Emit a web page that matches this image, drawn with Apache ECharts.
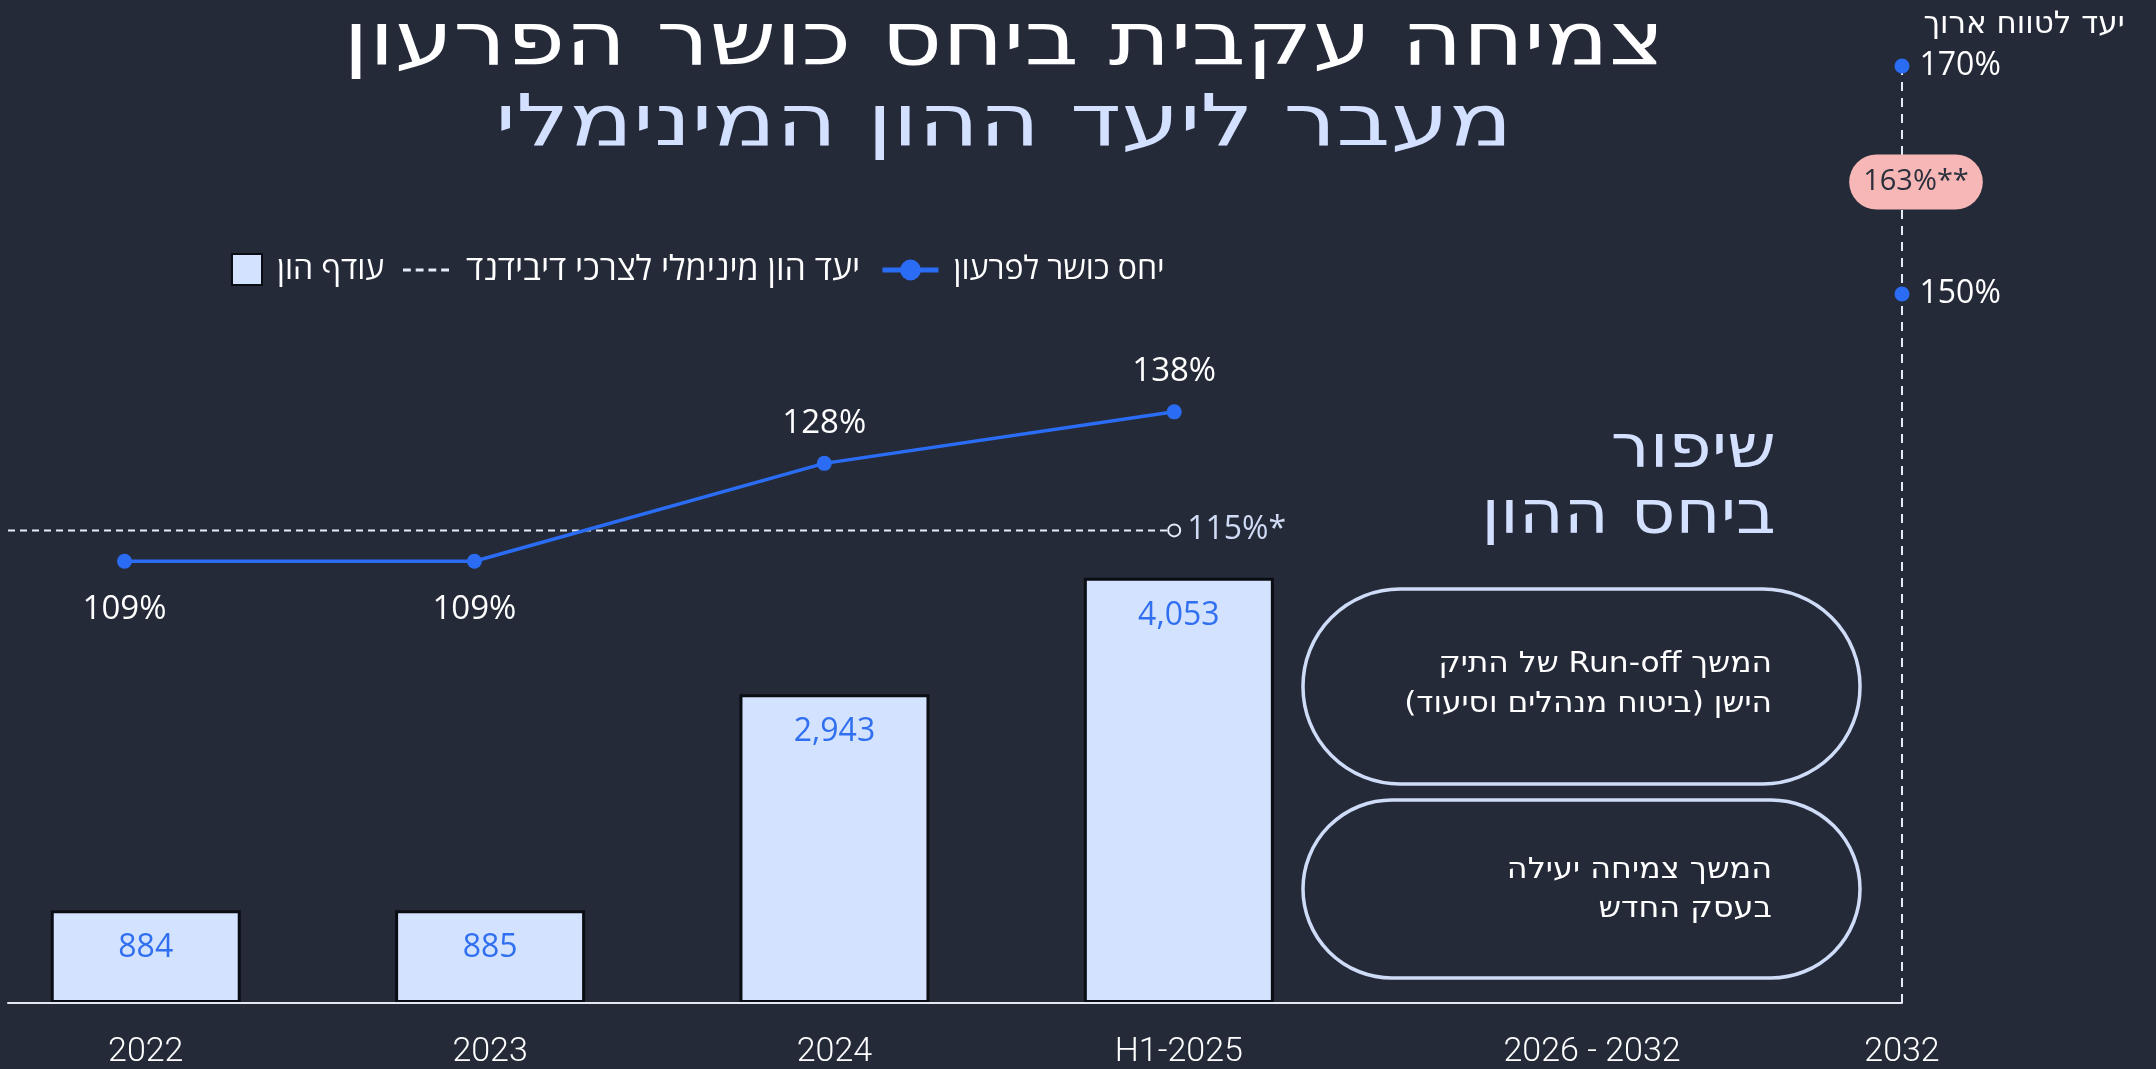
<!DOCTYPE html>
<html>
<head>
<meta charset="utf-8">
<script src="https://cdn.jsdelivr.net/npm/echarts@6/dist/echarts.min.js"></script>
<style>
  html, body { margin: 0; padding: 0; background: #252a39; }
  #chart { width: 2156px; height: 1069px; }
</style>
</head>
<body>
<div id="chart"></div>
<script>
// data
const periods = ['2022', '2023', '2024', 'H1-2025', '2026 - 2032', '2032'];
const capitalSurplus = [884, 885, 2943, 4053];          // עודף הון
const solvencyRatio = [109, 109, 128, 138];             // יחס כושר לפרעון (%)
const minDividendTarget = 115;                          // יעד הון מינימלי (%)
const longTermTargets = [170, 150];                     // יעד לטווח ארוך (%)
const longTermBadge = '163%**';

// where each period sits on the x value axis (layout only)
const periodPos = [0, 1, 2, 3, 4.2, 5.1];

const FONT = "'Open Sans', 'DejaVu Sans', sans-serif";
const WIDE = "'DejaVu Sans', 'Open Sans', sans-serif";
const RLE = '\u202B', PDF = '\u202C';
const rtl = s => s.split('\n').map(l => RLE + l + PDF).join('\n');

const NAME_BAR = 'עודף הון';
const NAME_MIN = 'יעד הון מינימלי לצרכי דיבידנד';
const NAME_RATIO = 'יחס כושר לפרעון';

let chart = echarts.init(document.getElementById('chart'));

chart.setOption({
  backgroundColor: '#252a39',
  textStyle: { fontFamily: FONT },
  animation: false,
  title: [
    {
      text: 'יעד לטווח ארוך',
      left: 2019, top: 4, textAlign: 'center',
      textStyle: { color: '#ffffff', fontSize: 31, fontWeight: 'normal', fontFamily: WIDE }
    }
  ],
  legend: [
    {
      left: 231, top: 253, padding: 0,
      itemWidth: 30, itemHeight: 31,
      data: [{ name: NAME_BAR, icon: 'rect' }],
      textStyle: { color: '#ffffff', fontSize: 32, padding: [0, 0, 0, 10] }
    },
    {
      left: 403, top: 253, padding: 0,
      itemWidth: 46, itemHeight: 31,
      data: [{ name: NAME_MIN, icon: 'path://M0,0h8v3h-8z M13,0h8v3h-8z M26,0h8v3h-8z M39,0h8v3h-8z',
               itemStyle: { color: '#e6ecf8', borderWidth: 0 } }],
      textStyle: { color: '#ffffff', fontSize: 34, padding: [0, 0, 0, 12] }
    },
    {
      left: 880, top: 254, padding: 0,
      itemWidth: 56, itemHeight: 26,
      data: [{ name: NAME_RATIO }],
      lineStyle: { width: 5 },
      textStyle: { color: '#ffffff', fontSize: 32, padding: [0, 0, 0, 10] }
    }
  ],
  grid: { left: 8, right: 254, top: 66, bottom: 66 },
  xAxis: [
    {
      type: 'value',
      min: -0.4, max: 5.1,
      z: 3,
      axisLine: { show: true, onZero: false, lineStyle: { color: '#e4e8f0', width: 2 } },
      axisTick: { show: false },
      splitLine: { show: false },
      axisLabel: {
        customValues: periodPos,
        color: '#ffffff', fontSize: 34, margin: 32,
        fontFamily: 'Roboto', fontWeight: 300,
        formatter: v => {
          const i = periodPos.findIndex(p => Math.abs(p - v) < 1e-6);
          return i >= 0 ? periods[i] : '';
        }
      }
    },
    // the ratio line in the slide runs on its own, slightly wider spacing
    { type: 'value', show: false, min: -0.333, max: 5.08 }
  ],
  yAxis: [
    { type: 'value', show: false, min: 0, max: 8930 },
    { type: 'value', show: false, min: 23.3, max: 205.1 },
    { type: 'value', show: false, min: 87.8, max: 170 }
  ],
  series: [
    {
      name: NAME_BAR,
      type: 'bar',
      yAxisIndex: 0,
      barWidth: 190,
      data: capitalSurplus.map((v, i) => [i, v]),
      itemStyle: { color: '#d3e2ff', borderColor: '#0b0d14', borderWidth: 3 },
      label: {
        show: true, position: 'insideTop', distance: 22,
        color: '#2f6ff0', fontSize: 32,
        formatter: p => p.value[1].toLocaleString('en-US')
      }
    },
    {
      name: NAME_MIN,
      type: 'line',
      xAxisIndex: 1,
      yAxisIndex: 1,
      z: 3,
      data: [
        { value: [-0.333, minDividendTarget], symbol: 'none' },
        { value: [3, minDividendTarget], symbol: 'circle', symbolSize: 12,
          label: { show: true, position: 'right', distance: 6,
                   formatter: minDividendTarget + '%*', color: '#d0dcf5', fontSize: 32 } }
      ],
      itemStyle: { color: '#252a39', borderColor: '#e6ecf8', borderWidth: 2 },
      lineStyle: { color: '#e6ecf8', width: 2, type: [7, 5] }
    },
    {
      name: NAME_RATIO,
      type: 'line',
      xAxisIndex: 1,
      yAxisIndex: 1,
      z: 4,
      symbol: 'circle',
      symbolSize: 15,
      data: solvencyRatio.map((v, i) => ({
        value: [i, v],
        label: i < 2 ? { position: 'bottom', distance: 24 } : { position: 'top', distance: 16 }
      })),
      itemStyle: { color: '#2a6df4' },
      lineStyle: { color: '#2a6df4', width: 3.5 },
      label: {
        show: true, color: '#ffffff', fontSize: 33,
        formatter: p => p.value[1] + '%'
      }
    },
    {
      name: 'long-term',
      type: 'scatter',
      yAxisIndex: 2,
      z: 5,
      symbol: 'circle',
      symbolSize: 15,
      data: longTermTargets.map(v => [periodPos[5], v]),
      itemStyle: { color: '#2a6df4', opacity: 1 },
      label: {
        show: true, position: 'right', distance: 10,
        color: '#ffffff', fontSize: 32,
        formatter: p => p.value[1] + '%'
      },
      markLine: {
        silent: true,
        symbol: 'none',
        label: { show: false },
        lineStyle: { color: '#e6ecf8', width: 2, type: [9, 7] },
        data: [{ xAxis: periodPos[5] }]
      }
    },
    {
      name: 'badge',
      type: 'scatter',
      yAxisIndex: 2,
      z: 6,
      symbolSize: 1,
      itemStyle: { color: 'transparent', opacity: 1 },
      data: [[periodPos[5], (longTermTargets[0] + longTermTargets[1]) / 2]],
      label: {
        show: true, position: 'inside', offset: [14, 2],
        formatter: longTermBadge,
        color: '#2b2f3c', fontSize: 29,
        backgroundColor: '#f6b7b6', borderRadius: 28,
        padding: [13, 14]
      }
    }
  ],
  graphic: [
    {
      type: 'text', x: 1004, y: 8, scaleX: 1.27,
      style: {
        text: 'צמיחה עקבית ביחס כושר הפרעון',
        fill: '#ffffff', font: '74px ' + WIDE,
        align: 'center', verticalAlign: 'top'
      }
    },
    {
      type: 'text', x: 1004, y: 90, scaleX: 1.3,
      style: {
        text: 'מעבר ליעד ההון המינימלי',
        fill: '#d3e0ff', font: '72px ' + WIDE,
        align: 'center', verticalAlign: 'top'
      }
    },
    {
      type: 'text', x: 1776, y: 418, scaleX: 1.15,
      style: {
        text: 'שיפור\nביחס ההון',
        fill: '#d3e0ff', font: '60px ' + WIDE,
        align: 'right', verticalAlign: 'top', lineHeight: 66
      }
    },
    {
      type: 'rect', x: 1303, y: 589,
      shape: { width: 557, height: 195, r: 97 },
      style: { fill: 'none', stroke: '#cfdcf8', lineWidth: 3.5 }
    },
    {
      type: 'rect', x: 1303, y: 800,
      shape: { width: 557, height: 178, r: 89 },
      style: { fill: 'none', stroke: '#cfdcf8', lineWidth: 3.5 }
    },
    {
      type: 'text', x: 1772, y: 644, scaleX: 1.08,
      style: {
        text: rtl('המשך Run-off של התיק\nהישן (ביטוח מנהלים וסיעוד)'),
        fill: '#ffffff', font: '29px ' + WIDE,
        align: 'right', verticalAlign: 'top', lineHeight: 40
      }
    },
    {
      type: 'text', x: 1772, y: 851, scaleX: 1.1,
      style: {
        text: rtl('המשך צמיחה יעילה\nבעסק החדש'),
        fill: '#ffffff', font: '29px ' + WIDE,
        align: 'right', verticalAlign: 'top', lineHeight: 39
      }
    }
  ]
});
</script>
</body>
</html>
